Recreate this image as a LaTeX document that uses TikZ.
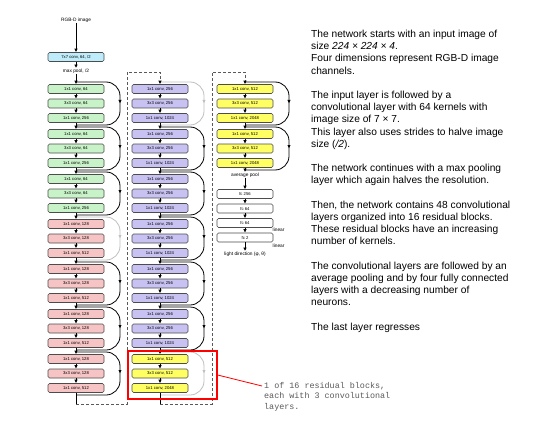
\documentclass[tikz,border=0pt]{standalone}
\usepackage{fontspec}
\setmainfont{Liberation Sans}
\newfontfamily\notefont{Liberation Mono}
\usepackage{xcolor}
\usepackage{tikz}
\usetikzlibrary{arrows.meta,positioning,decorations.markings}

\definecolor{convblue}{RGB}{190,236,250}
\definecolor{convgreen}{RGB}{200,242,200}
\definecolor{convpink}{RGB}{246,196,196}
\definecolor{convpurple}{RGB}{200,194,242}
\definecolor{convyellow}{RGB}{255,255,100}

\begin{document}
\begin{tikzpicture}[
    x=1pt, y=-1pt,
    convbox/.style={draw=gray!60!black, line width=0.6pt, rounded corners=1.5pt, minimum width=56pt, minimum height=9pt, inner sep=0pt, font=\fontsize{4.2}{5}\selectfont},
    fcbox/.style={convbox, fill=white},
    txt/.style={inner sep=0.5pt, font=\fontsize{4.8}{5.5}\selectfont},
    flow/.style={line width=0.8pt, -{Latex[length=3.5pt,width=3.5pt]}},
    skip/.style={line width=0.8pt, rounded corners=14pt, postaction={decorate}, decoration={markings, mark=at position 0.5 with {\arrow{Latex[length=3.5pt,width=3.5pt]}}}},
    link/.style={line width=0.8pt, densely dashed, gray!70!black}
]
\useasboundingbox (0,0) rectangle (551,433);

\coordinate (top) at (0,72);
\coordinate (bottom) at (0,404);
\coordinate (gapA) at (127,0);
\coordinate (gapB) at (212,0);

\node[txt] (rgbd) at (76,20) {RGB-D image};
\node[convbox, fill=convblue] (conv1) at (76,57) {7x7 conv, 64, /2};
\node[txt] (maxpool) at (76,71) {max pool, /2};

\foreach \c/\cx/\k/\tone/\n/\m/\sk in {
    a/76/1/convgreen/64/256/black, a/76/2/convgreen/64/256/black, a/76/3/convgreen/64/256/black,
    a/76/4/convpink/128/512/gray!50, a/76/5/convpink/128/512/black, a/76/6/convpink/128/512/black,
    a/76/7/convpink/128/512/black,
    b/160/1/convpurple/256/1024/gray!50, b/160/2/convpurple/256/1024/black, b/160/3/convpurple/256/1024/black,
    b/160/4/convpurple/256/1024/black, b/160/5/convpurple/256/1024/black, b/160/6/convpurple/256/1024/black,
    b/160/7/convyellow/512/2048/gray!50,
    c/245/1/convyellow/512/2048/black, c/245/2/convyellow/512/2048/black} {
    \node[convbox, fill=\tone] (\c\k-1) at (\cx,{89+45*(\k-1)}) {1x1 conv, \n};
    \node[convbox, fill=\tone] (\c\k-2) at (\cx,{103.5+45*(\k-1)}) {3x3 conv, \n};
    \node[convbox, fill=\tone] (\c\k-3) at (\cx,{118+45*(\k-1)}) {1x1 conv, \m};
    \coordinate (\c\k-in) at (\cx,{82+45*(\k-1)});
    \coordinate (\c\k-out) at (\cx,{125+45*(\k-1)});
    \draw[flow] (\c\k-1) -- (\c\k-2);
    \draw[flow] (\c\k-2) -- (\c\k-3);
    \draw[skip, color=\sk] (\c\k-in) -- ++(44,0) |- (\c\k-out);
}
\foreach \k [count=\j from 2] in {1,...,6} {
    \draw[flow] (a\k-3) -- (a\j-1);
    \draw[flow] (b\k-3) -- (b\j-1);
}
\draw[flow] (c1-3) -- (c2-1);

\draw[flow] (rgbd) -- (conv1);
\draw[flow] (conv1) -- (maxpool);
\draw[flow] (maxpool) -- (a1-1);

\draw[line width=0.8pt] (a7-3) -- (a7-3 |- bottom);
\draw[link, -{Latex[length=3.5pt,width=3.5pt,black]}] (a7-3 |- bottom) -- (gapA |- bottom) -- (gapA |- top) -- (b1-1 |- top) -- (b1-1);
\draw[line width=0.8pt] (b7-3) -- (b7-3 |- bottom);
\draw[link, -{Latex[length=3.5pt,width=3.5pt,black]}] (b7-3 |- bottom) -- (gapB |- bottom) -- (gapB |- top) -- (c1-1 |- top) -- (c1-1);

\node[txt] (avgpool) at (245,175) {average pool};
\node[fcbox] (fc1) at (245,194) {fc 256};
\node[fcbox] (fc2) at (245,208.5) {fc 64};
\node[fcbox] (fc3) at (245,223) {fc 64};
\node[fcbox] (fc4) at (245,237.5) {fc 2};
\node[txt] (light) at (245,254) {light direction (φ, θ)};
\node[txt, anchor=west] (lin1) at (272,230) {linear};
\node[txt, anchor=west] (lin2) at (272,246) {linear};
\draw[flow] (c2-3) -- (avgpool);
\draw[flow] (avgpool) -- (fc1);
\draw[flow] (fc1) -- (fc2);
\draw[flow] (fc2) -- (fc3);
\draw[flow] (fc3) -- (fc4);
\draw[flow] (fc4) -- (light);

\node[draw=red, line width=1.2pt, minimum width=89pt, minimum height=48pt, inner sep=0pt] (redbox) at (172.5,375) {};
\node[anchor=north west, align=left, inner sep=0pt, text=gray!70!black, font=\notefont\fontsize{8.4}{10.7}\selectfont] (note) at (264,382) {1 of 16 residual blocks,\\each with 3 convolutional\\layers.};
\draw[red, line width=0.8pt] (redbox.east) -- ([xshift=-2pt,yshift=-4pt]note.north west);

\node[anchor=north west, align=left, inner sep=0pt, font=\fontsize{10.2}{12.2}\selectfont] (desc) at (311,30) {The network starts with an input image of\\
size \textit{224 × 224 × 4}.\\
Four dimensions represent RGB-D image\\
channels.\\[12.2pt]
The input layer is followed by a\\
convolutional layer with 64 kernels with\\
image size of 7 × 7.\\
This layer also uses strides to halve image\\
size (\textit{/2}).\\[12.2pt]
The network continues with a max pooling\\
layer which again halves the resolution.\\[12.2pt]
Then, the network contains 48 convolutional\\
layers organized into 16 residual blocks.\\
These residual blocks have an increasing\\
number of kernels.\\[12.2pt]
The convolutional layers are followed by an\\
average pooling and by four fully connected\\
layers with a decreasing number of\\
neurons.\\[12.2pt]
The last layer regresses};
\end{tikzpicture}
\end{document}
